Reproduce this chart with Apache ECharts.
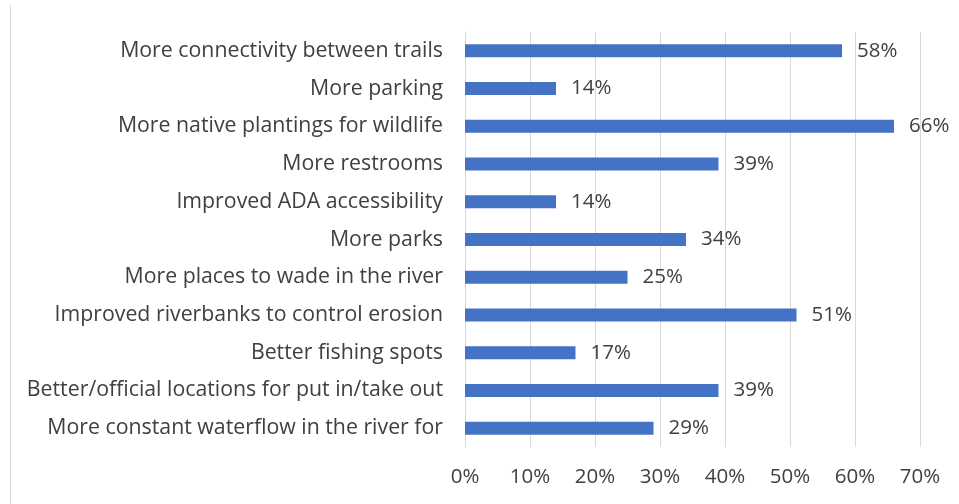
<!DOCTYPE html>
<html>
<head>
<meta charset="utf-8">
<script src="https://cdn.jsdelivr.net/npm/echarts@6/dist/echarts.min.js"></script>
<style>
  html, body { margin: 0; padding: 0; background: #ffffff; }
  #chart { width: 959px; height: 504px; }
</style>
</head>
<body>
<div id="chart"></div>
<script>
// Improvement wishes, listed top to bottom
const categories = [
  'More connectivity between trails',
  'More parking',
  'More native plantings for wildlife',
  'More restrooms',
  'Improved ADA accessibility',
  'More parks',
  'More places to wade in the river',
  'Improved riverbanks to control erosion',
  'Better fishing spots',
  'Better/official locations for put in/take out',
  'More constant waterflow in the river for'
];
// Share of respondents, percent
const shares = [58, 14, 66, 39, 14, 34, 25, 51, 17, 39, 29];
// X axis ticks
const xTicks = [0, 10, 20, 30, 40, 50, 60, 70];

const textColor = '#404040';
const fontFamily = 'Open Sans, Calibri, sans-serif';

const chart = echarts.init(document.getElementById('chart'));
chart.setOption({
  animation: false,
  backgroundColor: '#ffffff',
  grid: { left: 465, right: 39, top: 32, bottom: 57, containLabel: false },
  xAxis: {
    type: 'value',
    min: xTicks[0],
    max: xTicks[xTicks.length - 1],
    interval: 10,
    axisLine: { show: false },
    axisTick: { show: false },
    splitLine: { show: true, lineStyle: { color: '#d9d9d9', width: 1 } },
    axisLabel: {
      color: textColor, fontSize: 20.5, fontFamily: fontFamily, margin: 20,
      formatter: v => v + '%'
    }
  },
  yAxis: {
    type: 'category',
    data: categories,
    inverse: true,
    axisLine: { show: true, lineStyle: { color: '#d9d9d9', width: 1 } },
    axisTick: { show: false },
    axisLabel: { color: textColor, fontSize: 21.3, fontFamily: fontFamily, margin: 22 }
  },
  series: [{
    type: 'bar',
    data: shares,
    barWidth: 13,
    itemStyle: { color: '#4472c4' },
    label: {
      show: true, position: 'right', distance: 15,
      color: textColor, fontSize: 20.5, fontFamily: fontFamily,
      formatter: p => p.value + '%'
    }
  }],
  graphic: [{
    type: 'line',
    shape: { x1: 10.5, y1: 5, x2: 10.5, y2: 504 },
    style: { stroke: '#d9d9d9', lineWidth: 1 }
  }]
});
</script>
</body>
</html>
